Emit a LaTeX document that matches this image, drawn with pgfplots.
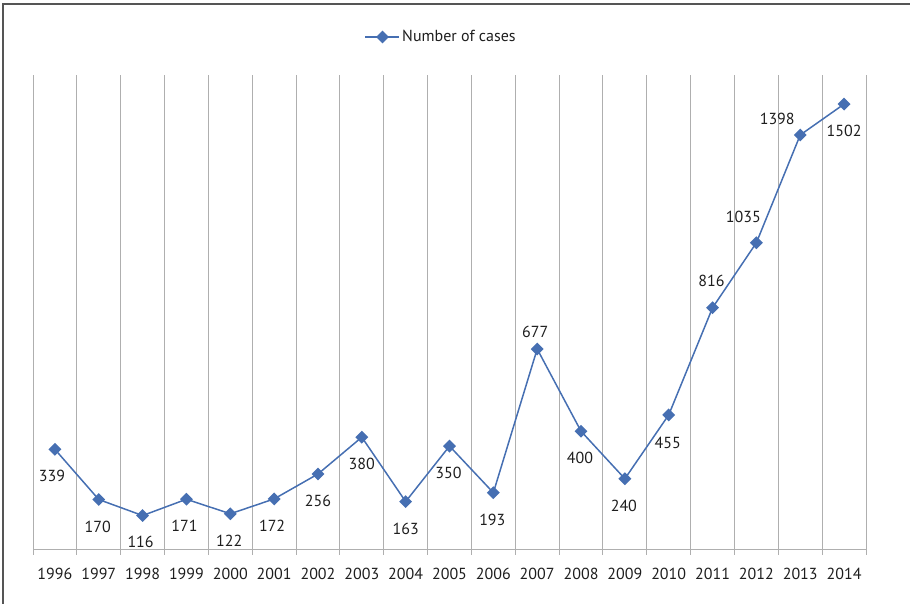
\documentclass[border=0pt]{standalone}
\usepackage{pgfplots}
\pgfplotsset{compat=1.18}
\usepackage{pgfplotstable}
\usepackage{fontspec}
\setmainfont{PT Sans}

\definecolor{serblue}{RGB}{70,111,178}
\definecolor{gridgray}{RGB}{175,175,175}
\definecolor{txt}{RGB}{30,30,30}
\definecolor{frame}{RGB}{85,85,85}

% idx, year, cases, label offset (dx right, dy down)
\pgfplotstableread{
idx year cases dx dy
0 1996 339 -3 27
1 1997 170 -1 27
2 1998 116 -2 26
3 1999 171 -2 27
4 2000 122 -1 27
5 2001 172 -2 27
6 2002 256 0 27
7 2003 380 0 27
8 2004 163 0 27
9 2005 350 -1 27
10 2006 193 -1 27
11 2007 677 -2 -17
12 2008 400 -1 27
13 2009 240 -1 27
14 2010 455 -1 28
15 2011 816 -1 -27
16 2012 1035 -13 -26
17 2013 1398 -23 -16
18 2014 1502 0 27
}\casedata

\begin{document}
\begin{tikzpicture}[x=1pt,y=1pt]
\useasboundingbox (0,0) rectangle (910,604);
\draw[frame, line width=1.5pt] (3,-10) -- (3,600) -- (920,600);
\begin{axis}[
    at={(33pt,54pt)}, anchor=south west,
    width=833pt, height=475pt, scale only axis,
    xmin=-0.5, xmax=18.5, ymin=0, ymax=1600,
    axis x line*=bottom, axis y line=none,
    x axis line style={gridgray, line width=1pt, -},
    xtick={0,...,18},
    xticklabels={1996,1997,1998,1999,2000,2001,2002,2003,2004,2005,2006,2007,2008,2009,2010,2011,2012,2013,2014},
    major tick length=0pt,
    minor xtick={-0.5,0.5,1.5,2.5,3.5,4.5,5.5,6.5,7.5,8.5,9.5,10.5,11.5,12.5,13.5,14.5,15.5,16.5,17.5,18.5},
    minor tick length=5pt, tick align=outside,
    xminorgrids,
    minor grid style={gridgray, line width=1pt},
    minor tick style={gridgray, line width=1pt},
    /pgf/number format/assume math mode=true,
    tick label style={font=\fontsize{16}{19}\selectfont, text=txt},
    xticklabel style={yshift=-15pt},
    legend style={at={(0.49,1.08)}, anchor=center, draw=none, fill=none,
        font=\fontsize{16}{19}\selectfont, text=txt},
    legend image code/.code={
        \draw[mark repeat=2, mark phase=2, #1]
            plot coordinates {(0pt,0pt) (17pt,0pt) (34pt,0pt)};},
    nodes near coords,
    point meta=explicit symbolic,
    visualization depends on={\thisrow{dx} \as \dx},
    visualization depends on={\thisrow{dy} \as \dy},
    nodes near coords style={anchor=center, xshift={\dx*1pt}, yshift={-\dy*1pt},
        font=\fontsize{16}{19}\selectfont, text=txt},
]
\addplot[serblue, line width=1.5pt, mark=square*, mark size=3.8pt,
    mark options={rotate=45, solid}]
    table[x=idx, y=cases, meta=cases] {\casedata};
\addlegendentry{Number of cases}
\end{axis}
\end{tikzpicture}
\end{document}
